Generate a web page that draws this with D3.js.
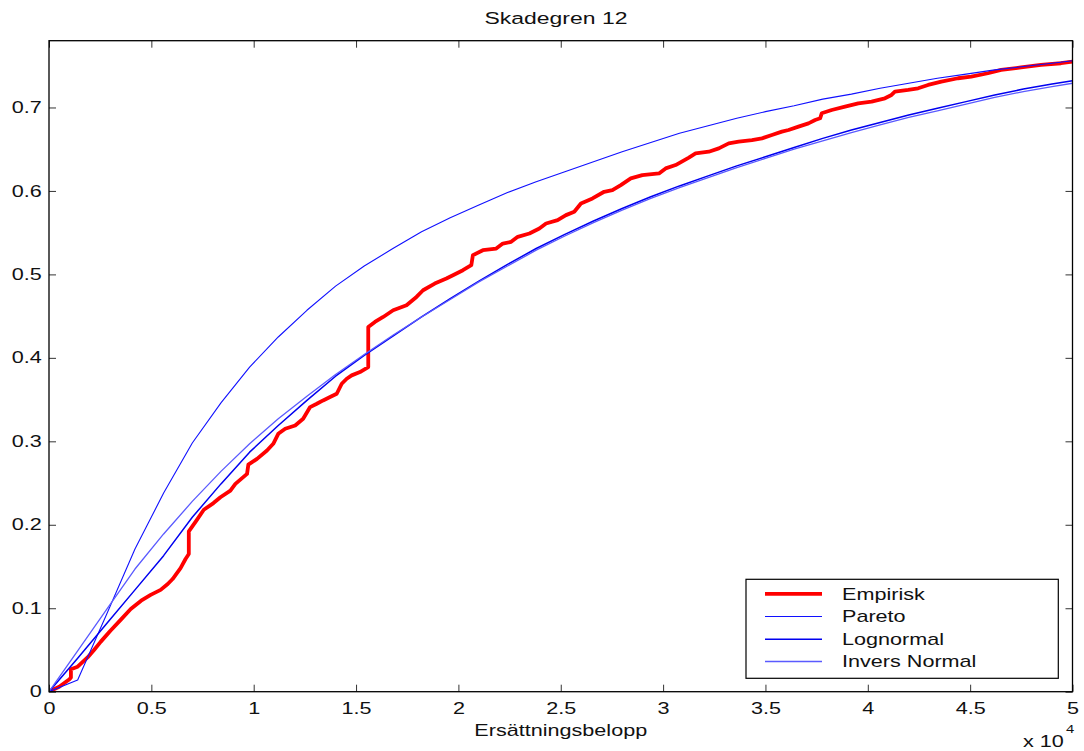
<!DOCTYPE html>
<html><head><meta charset="utf-8">
<script src="https://cdn.jsdelivr.net/npm/d3@7"></script>
<style>
html,body{margin:0;padding:0;background:#fff;}
svg{display:block;}
text{font-family:"Liberation Sans",Arial,Helvetica,sans-serif;fill:#111;}
</style></head><body>
<svg id="chart" width="1084" height="751"></svg>
<script>
// Fitted distribution functions, evaluated on a common grid of claim amounts
const gridX = [0,1400,2800,4200,5600,7000,8400,9800,11200,12600,14000,15400,16800,18200,19600,21000,22400,23800,25200,26600,28000,29400,30800,32200,33600,35000,36400,37800,39200,40600,42000,43400,44800,46200,47600,49000,50000];
const paretoY = [0,0.014,0.092,0.171,0.238,0.298,0.346,0.389,0.425,0.457,0.486,0.510,0.531,0.551,0.568,0.583,0.598,0.611,0.623,0.635,0.647,0.658,0.669,0.678,0.687,0.695,0.702,0.710,0.716,0.723,0.729,0.735,0.740,0.745,0.749,0.753,0.756];
const lognormalY = [0,0.040,0.081,0.122,0.163,0.209,0.249,0.287,0.319,0.349,0.378,0.403,0.426,0.449,0.471,0.492,0.512,0.531,0.548,0.564,0.579,0.593,0.606,0.618,0.630,0.641,0.652,0.663,0.673,0.682,0.691,0.699,0.707,0.715,0.722,0.728,0.732];
const inversNormalY = [0,0.049,0.098,0.147,0.189,0.228,0.264,0.297,0.327,0.354,0.380,0.404,0.427,0.449,0.470,0.491,0.510,0.529,0.546,0.562,0.577,0.591,0.604,0.616,0.628,0.639,0.650,0.660,0.670,0.679,0.688,0.696,0.704,0.712,0.719,0.725,0.729];

// Empirical distribution function (repeated x = jump)
const empiriskX = [0,500,1000,1071,1071,1400,1884,2200,2532,3000,3500,3993,4500,4966,5453,5800,6038,6427,6670,6830,6830,7200,7562,8034,8375,8862,9105,9675,9738,10162,10649,10955,11199,11540,12026,12416,12757,13083,13390,13731,14057,14300,14544,14787,15191,15596,15596,15922,16326,16813,17465,17952,18274,18843,19413,19734,20221,20630,20708,21195,21847,22169,22578,22899,23469,23955,24282,24847,25255,25660,25986,26551,27120,27524,27934,28421,28985,29798,30124,30611,31259,31585,32233,32720,33207,33693,34341,34828,35315,35802,36128,36615,37101,37428,37671,37749,38236,38889,39536,40184,40837,41158,41324,41971,42458,42945,43593,44405,45053,45866,46514,47487,48461,49435,50000];
const empiriskY = [0,0.006,0.015,0.017,0.027,0.030,0.041,0.050,0.060,0.073,0.086,0.099,0.109,0.116,0.122,0.129,0.135,0.148,0.159,0.165,0.192,0.205,0.218,0.226,0.233,0.241,0.249,0.261,0.272,0.279,0.289,0.297,0.309,0.315,0.319,0.327,0.341,0.345,0.349,0.353,0.357,0.369,0.375,0.379,0.383,0.389,0.437,0.443,0.449,0.457,0.463,0.473,0.481,0.489,0.495,0.499,0.505,0.511,0.523,0.529,0.531,0.537,0.539,0.545,0.549,0.555,0.561,0.565,0.571,0.575,0.585,0.591,0.599,0.601,0.607,0.615,0.619,0.621,0.627,0.631,0.640,0.645,0.647,0.651,0.657,0.659,0.661,0.663,0.667,0.671,0.673,0.677,0.681,0.685,0.687,0.693,0.697,0.701,0.705,0.707,0.711,0.715,0.719,0.721,0.723,0.727,0.731,0.735,0.737,0.741,0.745,0.748,0.751,0.753,0.755];

const xTicks = [0,5000,10000,15000,20000,25000,30000,35000,40000,45000,50000];
const xTickLabels = ["0","0.5","1","1.5","2","2.5","3","3.5","4","4.5","5"];
const yTicks = [0,0.1,0.2,0.3,0.4,0.5,0.6,0.7];
const yTickLabels = ["0","0.1","0.2","0.3","0.4","0.5","0.6","0.7"];
const seriesNames = ["Empirisk","Pareto","Lognormal","Invers Normal"];

const W = 1084, H = 751;
const box = {left: 49, right: 1072.5, top: 40.7, bottom: 691.7};
const SX = 1.35;         // horizontal text stretch
const FS = 16;

const x = d3.scaleLinear().domain([0, 50000]).range([box.left, box.right]);
const y = d3.scaleLinear().domain([0, 0.78]).range([box.bottom, box.top]);

const svg = d3.select("#chart");
svg.append("rect").attr("width", W).attr("height", H).attr("fill", "#fff");

svg.append("defs").append("clipPath").attr("id", "plotclip")
  .append("rect").attr("x", box.left).attr("y", box.top)
  .attr("width", box.right - box.left).attr("height", box.bottom - box.top);

const styles = [
  {name: seriesNames[0], xs: empiriskX, ys: empiriskY, color: "#ff0000", width: 3.8},
  {name: seriesNames[1], xs: gridX, ys: paretoY, color: "#1010ff", width: 1.1},
  {name: seriesNames[2], xs: gridX, ys: lognormalY, color: "#0000f0", width: 1.5},
  {name: seriesNames[3], xs: gridX, ys: inversNormalY, color: "#5a5aff", width: 1.3}
];

const plot = svg.append("g").attr("clip-path", "url(#plotclip)");
styles.forEach(s => {
  const gen = d3.line().x((d, i) => x(s.xs[i])).y(d => y(d));
  plot.append("path").attr("d", gen(s.ys))
    .attr("fill", "none").attr("stroke", s.color).attr("stroke-width", s.width)
    .attr("stroke-linejoin", "round").attr("stroke-linecap", "round");
});

// Axes with inward ticks on all four sides
function styleAxis(g) {
  g.select(".domain").remove();
  g.selectAll(".tick line").attr("stroke", "#333").attr("stroke-width", 1);
  g.attr("font-family", null).attr("font-size", null);
  g.selectAll("text").attr("font-size", FS).attr("fill", "#111")
    .attr("transform", `scale(${SX},1)`);
}
svg.append("g").attr("transform", `translate(0,${box.bottom})`)
  .call(d3.axisBottom(x).tickValues(xTicks).tickFormat((d, i) => xTickLabels[i])
    .tickSizeInner(-7).tickSizeOuter(0).tickPadding(11)).call(styleAxis);
svg.append("g").attr("transform", `translate(0,${box.top})`)
  .call(d3.axisTop(x).tickValues(xTicks).tickFormat("")
    .tickSizeInner(-7).tickSizeOuter(0)).call(styleAxis);
svg.append("g").attr("transform", `translate(${box.left},0)`)
  .call(d3.axisLeft(y).tickValues(yTicks).tickFormat((d, i) => yTickLabels[i])
    .tickSizeInner(-7).tickSizeOuter(0).tickPadding(5.4)).call(styleAxis);
svg.append("g").attr("transform", `translate(${box.right},0)`)
  .call(d3.axisRight(y).tickValues(yTicks).tickFormat("")
    .tickSizeInner(-7).tickSizeOuter(0)).call(styleAxis);

svg.append("rect").attr("x", box.left).attr("y", box.top)
  .attr("width", box.right - box.left).attr("height", box.bottom - box.top)
  .attr("fill", "none").attr("stroke", "#000").attr("stroke-width", 1.3);

// Titles
function label(txt, tx, ty, anchor, size) {
  return svg.append("text").attr("transform", `translate(${tx},${ty}) scale(${SX},1)`)
    .attr("text-anchor", anchor).attr("font-size", size || FS).text(txt);
}
label("Skadegren 12", 556, 24, "middle", 17);
label("Ersättningsbelopp", (box.left + box.right) / 2, 736, "middle");
label("x 10", 1023, 747, "start");
label("4", 1066, 733, "start", 11);

// Legend
const lg = svg.append("g");
lg.append("rect").attr("x", 746).attr("y", 579.3).attr("width", 312.3).attr("height", 99)
  .attr("fill", "#fff").attr("stroke", "#000").attr("stroke-width", 1.2);
const rowY = [593.8, 616.5, 639.2, 661.5];
styles.forEach((s, i) => {
  lg.append("line").attr("x1", 765).attr("x2", 822).attr("y1", rowY[i]).attr("y2", rowY[i])
    .attr("stroke", s.color).attr("stroke-width", s.width);
  lg.append("text").attr("transform", `translate(842,${rowY[i] + 5.8}) scale(${SX},1)`)
    .attr("font-size", FS).text(s.name);
});
</script>
</body></html>
